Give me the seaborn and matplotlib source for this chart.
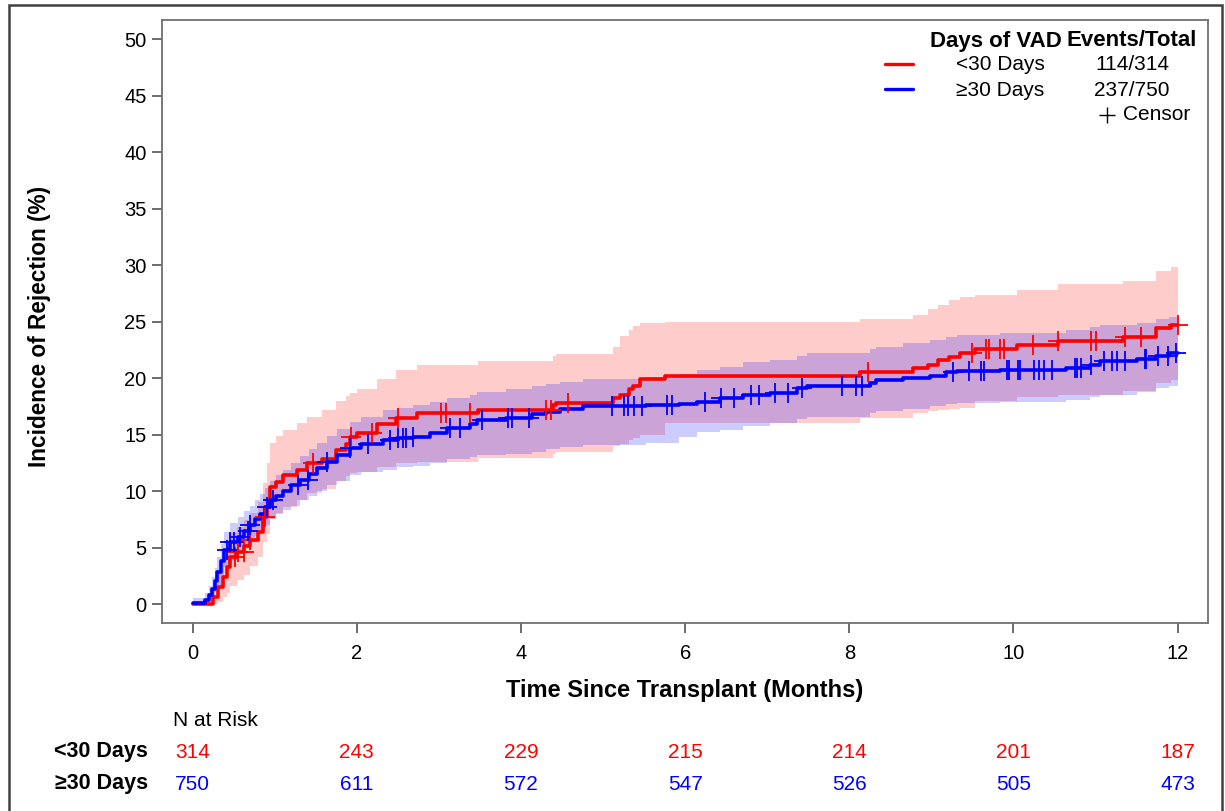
import numpy as np
import matplotlib
matplotlib.use("Agg")
import matplotlib.pyplot as plt
import matplotlib.transforms as mtransforms
from matplotlib.lines import Line2D
from matplotlib.patches import Rectangle
import pandas as pd
import seaborn as sns

# ---------------- data ----------------
GROUPS = ["<30 Days", "\u226530 Days"]
EVENTS_TOTAL = ["114/314", "237/750"]
END_T = 12.0

RED_T = [0, 0.25, 0.31, 0.37, 0.42, 0.46, 0.54, 0.63, 0.70, 0.79, 0.86, 0.90, 0.94, 1.02, 1.10,
         1.27, 1.39, 1.58, 1.75, 1.87, 1.92, 2.00, 2.25, 2.48, 2.73, 3.48, 4.39, 4.43, 5.12, 5.20,
         5.31, 5.37, 5.45, 5.75, 8.13, 8.77, 8.96, 9.08, 9.22, 9.35, 9.53, 10.04, 10.54, 11.33,
         11.74, 11.92]
RED_V = [0, 0.6, 1.5, 2.4, 3.3, 4.2, 4.6, 5.1, 5.7, 6.4, 7.7, 8.6, 10.4, 10.8, 11.4,
         11.9, 12.5, 12.8, 13.6, 14.2, 14.8, 15.1, 15.9, 16.5, 16.9, 17.2, 17.6, 17.8, 18.2, 18.5,
         19.0, 19.3, 19.9, 20.2, 20.5, 20.9, 21.2, 21.6, 21.9, 22.2, 22.6, 22.9, 23.3, 23.6,
         24.4, 24.7]
RED_HI = [0.3, 1.8, 3.0, 4.2, 5.3, 6.3, 6.8, 7.4, 8.1, 9.0, 10.7, 12.5, 14.3, 14.9, 15.4,
          16.0, 16.6, 17.2, 18.0, 18.4, 18.7, 19.0, 19.9, 20.7, 21.2, 21.5, 22.0, 22.1, 22.8, 23.7,
          24.3, 24.6, 24.9, 25.0, 25.2, 25.6, 26.1, 26.5, 26.9, 27.2, 27.4, 27.8, 28.3, 28.6,
          29.5, 29.8]
RED_LO = [0, 0, 0.2, 0.6, 1.0, 1.6, 2.1, 2.6, 3.4, 4.2, 5.5, 6.2, 7.5, 8.1, 8.6,
          9.2, 9.8, 10.2, 10.9, 11.3, 11.6, 11.7, 12.1, 12.5, 12.6, 12.9, 13.3, 13.5, 14.0, 14.2,
          14.5, 14.7, 15.0, 16.0, 16.5, 16.9, 17.1, 17.2, 17.3, 17.4, 18.0, 18.3, 18.5, 18.9,
          19.6, 19.8]
RED_CENSOR = [0.52, 0.55, 0.62, 0.70, 0.88, 1.47, 1.93, 2.19, 2.50, 3.03, 3.09, 3.38, 4.31, 4.37,
              4.57, 8.23, 9.49, 9.67, 9.70, 9.83, 9.89, 10.24, 10.54, 10.95, 11.01, 11.36, 11.55,
              12.0]

BLUE_T = [0, 0.15, 0.20, 0.24, 0.27, 0.30, 0.34, 0.38, 0.46, 0.55, 0.63, 0.70, 0.76, 0.82, 0.88,
          0.94, 1.02, 1.10, 1.20, 1.31, 1.42, 1.52, 1.64, 1.76, 1.92, 2.05, 2.32, 2.49, 2.69, 2.89,
          3.10, 3.38, 3.46, 3.82, 4.14, 4.31, 4.47, 4.75, 5.52, 5.93, 6.14, 6.42, 6.71, 7.03, 7.36,
          7.48, 8.25, 8.33, 8.66, 8.98, 9.18, 9.31, 9.83, 10.64, 10.93, 11.05, 11.50, 11.74, 11.90]
BLUE_V = [0.1, 0.4, 0.8, 1.3, 2.0, 2.8, 3.8, 4.8, 5.5, 5.9, 6.5, 7.0, 7.5, 8.0, 8.6,
          9.2, 9.6, 10.0, 10.5, 11.0, 11.5, 12.0, 12.6, 13.2, 13.8, 14.2, 14.5, 14.7, 14.8, 15.1,
          15.6, 15.9, 16.3, 16.5, 16.8, 17.0, 17.3, 17.5, 17.6, 17.7, 17.9, 18.2, 18.5, 18.7, 19.1,
          19.3, 19.6, 19.8, 20.0, 20.2, 20.5, 20.6, 20.75, 20.9, 21.2, 21.5, 21.7, 22.0, 22.2]
BLUE_HI = [0.5, 1.0, 1.6, 2.4, 3.2, 4.2, 5.3, 6.4, 7.2, 7.7, 8.2, 8.7, 9.2, 9.7, 10.3,
           10.9, 11.4, 11.9, 12.5, 13.1, 13.7, 14.3, 14.9, 15.5, 16.1, 16.6, 17.2, 17.4, 17.6, 17.9,
           18.2, 18.5, 18.8, 19.0, 19.3, 19.5, 19.7, 19.9, 20.1, 20.4, 20.7, 21.0, 21.4, 21.6, 22.0,
           22.2, 22.6, 22.8, 23.1, 23.4, 23.6, 23.8, 24.0, 24.3, 24.5, 24.7, 24.9, 25.2, 25.4]
BLUE_LO = [0, 0, 0.2, 0.6, 1.1, 1.7, 2.5, 3.3, 3.9, 4.4, 5.0, 5.5, 6.0, 6.5, 7.0,
           7.5, 8.0, 8.3, 8.7, 9.2, 9.6, 10.0, 10.5, 10.9, 11.4, 11.7, 11.9, 12.1, 12.2, 12.5,
           12.8, 13.0, 13.2, 13.3, 13.5, 13.7, 13.9, 14.1, 14.3, 14.8, 15.2, 15.4, 15.8, 16.0, 16.4,
           16.6, 16.9, 17.1, 17.3, 17.5, 17.7, 17.8, 17.9, 18.1, 18.3, 18.5, 18.8, 19.1, 19.3]
BLUE_CENSOR = [0.42, 0.46, 0.50, 0.58, 0.67, 0.70, 0.91, 0.98, 1.28, 1.40, 1.64, 1.92, 2.13, 2.40,
               2.50, 2.56, 2.60, 2.69, 3.13, 3.26, 3.52, 3.84, 3.89, 4.10, 5.11, 5.26, 5.30, 5.38,
               5.47, 5.78, 5.84, 6.24, 6.44, 6.60, 6.80, 6.90, 7.09, 7.25, 7.42, 7.91, 8.08, 8.15,
               9.26, 9.46, 9.61, 9.64, 9.92, 9.95, 10.06, 10.08, 10.25, 10.31, 10.37, 10.47, 10.75,
               10.77, 10.82, 10.94, 11.10, 11.20, 11.26, 11.36, 11.60, 11.62, 11.76, 11.88, 11.98]

RISK_TIMES = [0, 2, 4, 6, 8, 10, 12]
RISK_RED = [314, 243, 229, 215, 214, 201, 187]
RISK_BLUE = [750, 611, 572, 547, 526, 505, 473]

X_TICKS = [0, 2, 4, 6, 8, 10, 12]
Y_TICKS = [0, 5, 10, 15, 20, 25, 30, 35, 40, 45, 50]

RED = "#ff0000"
BLUE = "#0000ff"

# ---------------- style ----------------
sns.set_style("ticks")
plt.rcParams["font.family"] = ["Liberation Sans", "DejaVu Sans"]
plt.rcParams["text.color"] = "black"
plt.rcParams["axes.labelcolor"] = "black"
plt.rcParams["xtick.labelcolor"] = "black"
plt.rcParams["ytick.labelcolor"] = "black"

W, H = 1225, 811
fig = plt.figure(figsize=(W / 100, H / 100), dpi=100)
fig.patch.set_facecolor("white")


def fx(px):
    return px / W


def fy(py):
    return 1 - py / H


ax = fig.add_axes([fx(162), fy(623), (1208 - 162) / W, (623 - 20) / H])


def ext(t, v):
    return np.append(np.asarray(t, float), END_T), np.append(np.asarray(v, float), v[-1])


def at(t, v, c):
    t = np.asarray(t, float)
    idx = np.searchsorted(t, np.asarray(c, float), side="right") - 1
    return np.asarray(v, float)[idx]


series = [
    (RED_T, RED_V, RED_LO, RED_HI, RED_CENSOR, RED),
    (BLUE_T, BLUE_V, BLUE_LO, BLUE_HI, BLUE_CENSOR, BLUE),
]

# confidence bands
for t, v, lo, hi, cens, col in series:
    tx, lox = ext(t, lo)
    _, hix = ext(t, hi)
    ax.fill_between(tx, lox, hix, step="post", color=col, alpha=0.2, linewidth=0, zorder=1)

# curves
for t, v, lo, hi, cens, col in series:
    tx, vx = ext(t, v)
    df = pd.DataFrame({"t": tx, "v": vx})
    sns.lineplot(data=df, x="t", y="v", ax=ax, color=col, linewidth=2.6,
                 drawstyle="steps-post", estimator=None, sort=False, zorder=3)

# censor marks
for t, v, lo, hi, cens, col in series:
    tx, vx = ext(t, v)
    cy = at(tx, vx, cens)
    ax.plot(cens, cy, linestyle="none", marker="+", markersize=14, markeredgewidth=1.3,
            color=col, zorder=4)

ax.set_xlim(-0.374, 12.37)
ax.set_ylim(-1.68, 51.71)
ax.set_xticks(X_TICKS)
ax.set_yticks(Y_TICKS)
ax.set_xticklabels([str(x) for x in X_TICKS])
ax.set_yticklabels([str(y) for y in Y_TICKS])

for s in ax.spines.values():
    s.set_visible(True)
    s.set_color("#707070")
    s.set_linewidth(1.3)
ax.tick_params(axis="both", direction="out", length=7, width=1.3, color="#606060",
               labelcolor="black", labelsize=14.5)
ax.tick_params(axis="y", pad=4)
ax.tick_params(axis="x", pad=8)

ax.set_xlabel("Time Since Transplant (Months)", fontsize=17, fontweight="bold", color="black")
ax.xaxis.set_label_coords(0.5, (623 - 690) / 603)
ax.xaxis.label.set_va("center")
ax.set_ylabel("Incidence of Rejection (%)", fontsize=16.3, fontweight="bold", color="black")
ax.yaxis.set_label_coords((40 - 162) / 1046, (623 - 326) / 603)
ax.yaxis.label.set_va("center")

# ---------------- legend (inside plot, top right) ----------------
FS = 15
fig.text(fx(996), fy(41), "Days of VAD", ha="center", va="center", fontsize=16, fontweight="bold")
fig.text(fx(1132), fy(41), "Events/Total", ha="center", va="center", fontsize=16, fontweight="bold")
row_y = [65, 90]
for i, (g, et, col) in enumerate(zip(GROUPS, EVENTS_TOTAL, [RED, BLUE])):
    fig.add_artist(Line2D([fx(885), fx(913)], [fy(row_y[i] - 1)] * 2, color=col, linewidth=2.4,
                          transform=fig.transFigure))
    fig.text(fx(1000), fy(row_y[i]), g, ha="center", va="center", fontsize=FS)
    fig.text(fx(1132), fy(row_y[i]), et, ha="center", va="center", fontsize=FS)
fig.add_artist(Line2D([fx(1107)], [fy(115)], marker="+", markersize=11, markeredgewidth=1.0,
                      color="black", linestyle="none", transform=fig.transFigure))
fig.text(fx(1123), fy(115), "Censor", ha="left", va="center", fontsize=FS)

# ---------------- risk table ----------------
fig.text(fx(173), fy(720), "N at Risk", ha="left", va="center", fontsize=FS)
trans = mtransforms.blended_transform_factory(ax.transData, fig.transFigure)
for g, counts, col, yy in [(GROUPS[0], RISK_RED, RED, 752), (GROUPS[1], RISK_BLUE, BLUE, 784)]:
    fig.text(fx(148), fy(yy), g, ha="right", va="center", fontsize=15.5, fontweight="bold")
    for tt, n in zip(RISK_TIMES, counts):
        ax.text(tt, fy(yy), str(n), transform=trans, ha="center", va="center", fontsize=FS,
                color=col, clip_on=False)

# outer border
fig.patches.append(Rectangle((fx(9), fy(830)), (1222 - 9) / W, (830 - 5) / H, fill=False,
                             edgecolor="#404040", linewidth=1.8, transform=fig.transFigure,
                             figure=fig))

fig.savefig("out.png", dpi=100, facecolor="white")
